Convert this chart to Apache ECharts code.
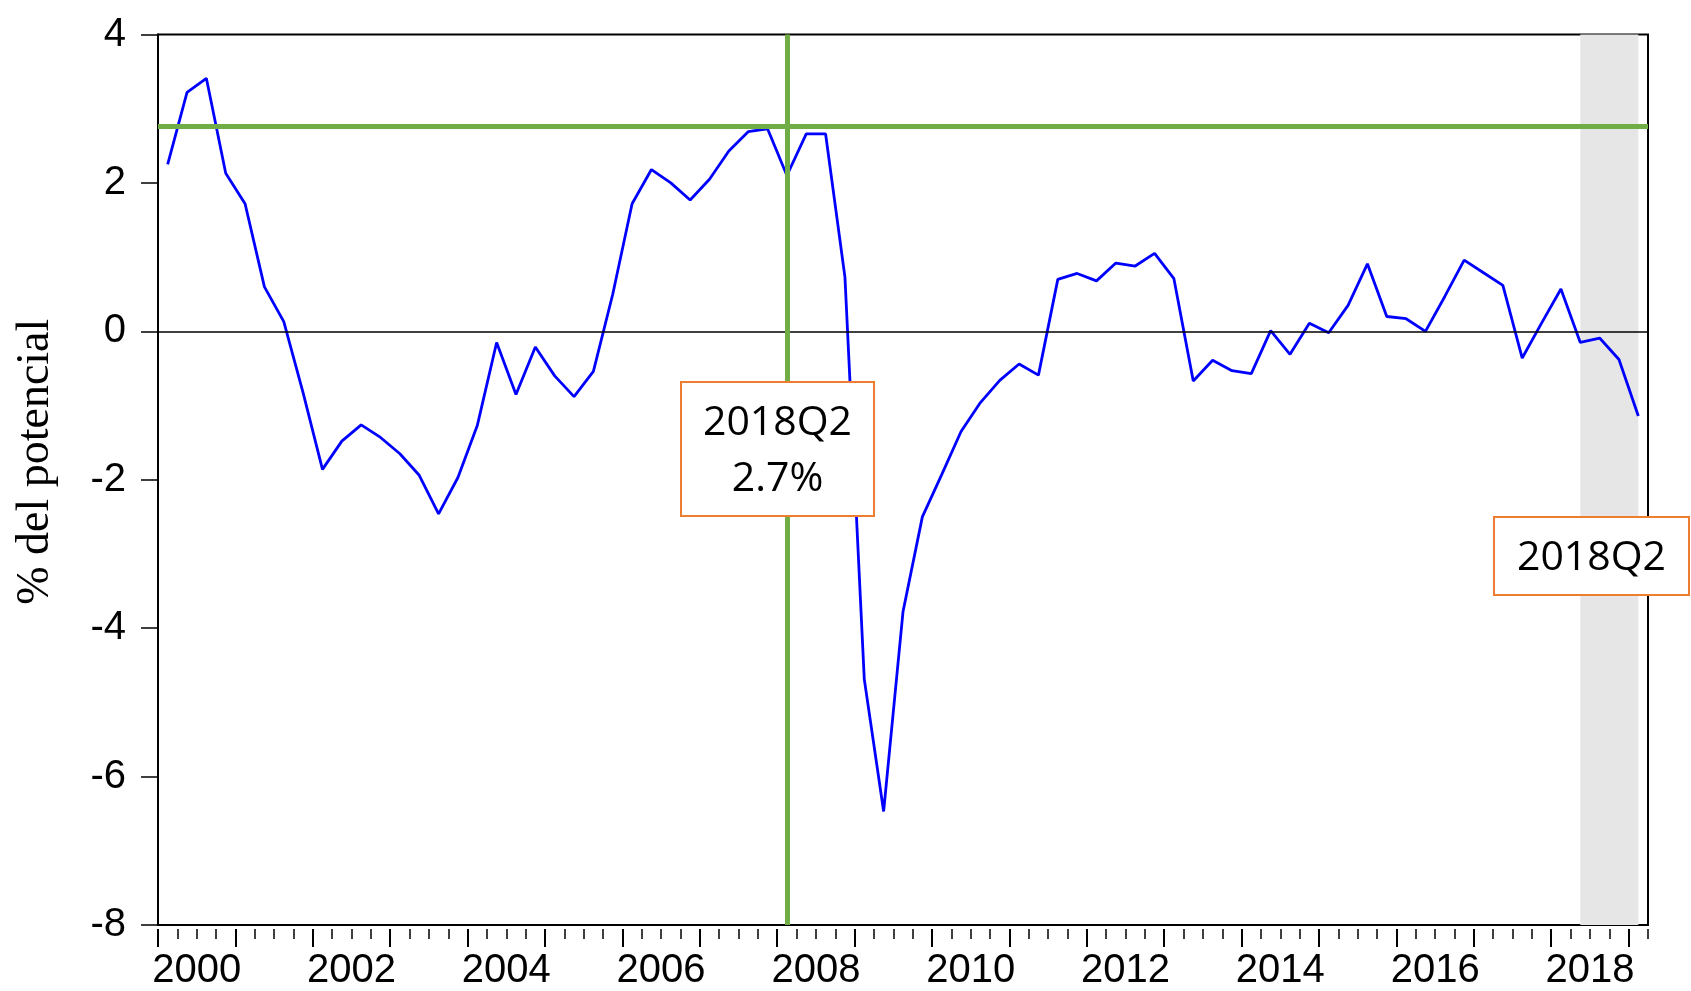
<!DOCTYPE html>
<html>
<head>
<meta charset="utf-8">
<title>Brecha del producto</title>
<script src="https://cdn.jsdelivr.net/npm/echarts@6/dist/echarts.min.js"></script>
<style>
  html, body { margin: 0; padding: 0; background: #fff; }
  #chart { width: 1691px; height: 991px; }
</style>
</head>
<body>
<div id="chart"></div>
<script>
// quarters 2000Q1 .. 2019Q1
const firstYear = 2000
const quarterCount = 77
const quarters = []
for (let i = 0; i < quarterCount; i++) {
  quarters.push((firstYear + Math.floor(i / 4)) + 'Q' + (i % 4 + 1))
}

// brecha del producto, % del potencial
const gap = [
  2.25, 3.22, 3.41, 2.13, 1.72, 0.60, 0.13, -0.83,
  -1.86, -1.48, -1.26, -1.43, -1.65, -1.94, -2.46, -1.97,
  -1.27, -0.15, -0.85, -0.21, -0.60, -0.88, -0.54, 0.50,
  1.72, 2.18, 2.00, 1.77, 2.05, 2.43, 2.69, 2.73,
  2.10, 2.66, 2.66, 0.73, -4.69, -6.47, -3.78, -2.50,
  -1.93, -1.35, -0.96, -0.66, -0.44, -0.59, 0.70, 0.78,
  0.68, 0.92, 0.88, 1.05, 0.71, -0.67, -0.39, -0.53,
  -0.57, 0.01, -0.31, 0.11, -0.02, 0.35, 0.91, 0.20,
  0.17, 0.00, 0.47, 0.96, 0.79, 0.62, -0.36, 0.11,
  0.57, -0.15, -0.09, -0.38, -1.14,
]

const yearTicks = [2000, 2001, 2002, 2003, 2004, 2005, 2006, 2007, 2008, 2009,
  2010, 2011, 2012, 2013, 2014, 2015, 2016, 2017, 2018, 2019]
const yearLabels = ['2000', '2002', '2004', '2006', '2008', '2010', '2012', '2014', '2016', '2018']

const refValue = 2.76
const refQuarter = '2008Q1'
const shadeFrom = '2018Q2'
const shadeTo = '2019Q1'

const axisFont = 'Liberation Sans, Arial, sans-serif'
const boxFont = '"Open Sans", "Noto Sans", sans-serif'

const chart = echarts.init(document.getElementById('chart'), null, { renderer: 'canvas' })

chart.setOption({
  animation: false,
  backgroundColor: '#fff',
  grid: {
    left: 158,
    right: 43,
    top: 34.5,
    bottom: 66,
    show: true,
    borderColor: '#000',
    borderWidth: 2,
    backgroundColor: '#fff',
    outerBoundsMode: 'none',
    containLabel: false,
  },
  xAxis: [
    {
      type: 'category',
      data: quarters,
      boundaryGap: true,
      position: 'bottom',
      offset: 4,
      axisLine: { show: false, onZero: false },
      axisTick: { show: true, interval: 0, length: 10, lineStyle: { color: '#000', width: 1.5 } },
      axisLabel: { show: false },
      splitLine: { show: false },
    },
    {
      type: 'value',
      min: firstYear,
      max: firstYear + quarterCount / 4,
      position: 'bottom',
      offset: 4,
      axisLine: { show: false, onZero: false },
      axisTick: {
        show: true,
        length: 18,
        customValues: yearTicks,
        lineStyle: { color: '#000', width: 2 },
      },
      axisLabel: {
        show: true,
        customValues: yearLabels.map(y => Number(y) + 0.5),
        formatter: v => String(Math.floor(v)),
        margin: 22,
        color: '#000',
        fontFamily: axisFont,
        fontSize: 40,
      },
      splitLine: { show: false },
    },
  ],
  yAxis: {
    type: 'value',
    min: -8,
    max: 4,
    interval: 2,
    name: '% del potencial',
    nameLocation: 'middle',
    nameGap: 99,
    nameTextStyle: {
      fontFamily: 'Liberation Serif, Times New Roman, serif',
      fontSize: 46,
      color: '#000',
      padding: [0, 0, 0, 36],
    },
    axisLine: { show: true, onZero: false, lineStyle: { color: '#000', width: 2 } },
    axisTick: { show: true, inside: false, length: 17, lineStyle: { color: '#000', width: 1.5 } },
    axisLabel: {
      color: '#000',
      fontFamily: axisFont,
      fontSize: 40,
      margin: 32,
    },
    splitLine: { show: false },
  },
  series: [
    {
      type: 'line',
      xAxisIndex: 0,
      data: gap,
      showSymbol: false,
      symbol: 'none',
      lineStyle: { color: '#0000FF', width: 2.8 },
      markArea: {
        silent: true,
        itemStyle: { color: '#E6E6E6' },
        data: [[{ xAxis: shadeFrom }, { xAxis: shadeTo }]],
      },
      markLine: {
        silent: true,
        symbol: ['none', 'none'],
        label: { show: false },
        data: [
          { yAxis: 0, lineStyle: { color: '#000', width: 1.5, type: 'solid' } },
          { yAxis: refValue, lineStyle: { color: '#70AD47', width: 5, type: 'solid' } },
          { xAxis: refQuarter, lineStyle: { color: '#70AD47', width: 5, type: 'solid' } },
        ],
      },
    },
  ],
  graphic: [
    {
      type: 'rect',
      z: 100,
      shape: { x: 681, y: 382, width: 193, height: 134 },
      style: { fill: '#fff', stroke: '#ED7D31', lineWidth: 2 },
    },
    {
      type: 'text',
      z: 101,
      x: 777.5,
      y: 451,
      style: {
        text: '2018Q2\n2.7%',
        fill: '#000',
        font: '41px ' + boxFont,
        lineHeight: 56,
        align: 'center',
        verticalAlign: 'middle',
      },
    },
    {
      type: 'rect',
      z: 100,
      shape: { x: 1494, y: 517, width: 195, height: 78 },
      style: { fill: '#fff', stroke: '#ED7D31', lineWidth: 2 },
    },
    {
      type: 'text',
      z: 101,
      x: 1591.5,
      y: 558,
      style: {
        text: '2018Q2',
        fill: '#000',
        font: '41px ' + boxFont,
        align: 'center',
        verticalAlign: 'middle',
      },
    },
  ],
})
</script>
</body>
</html>
